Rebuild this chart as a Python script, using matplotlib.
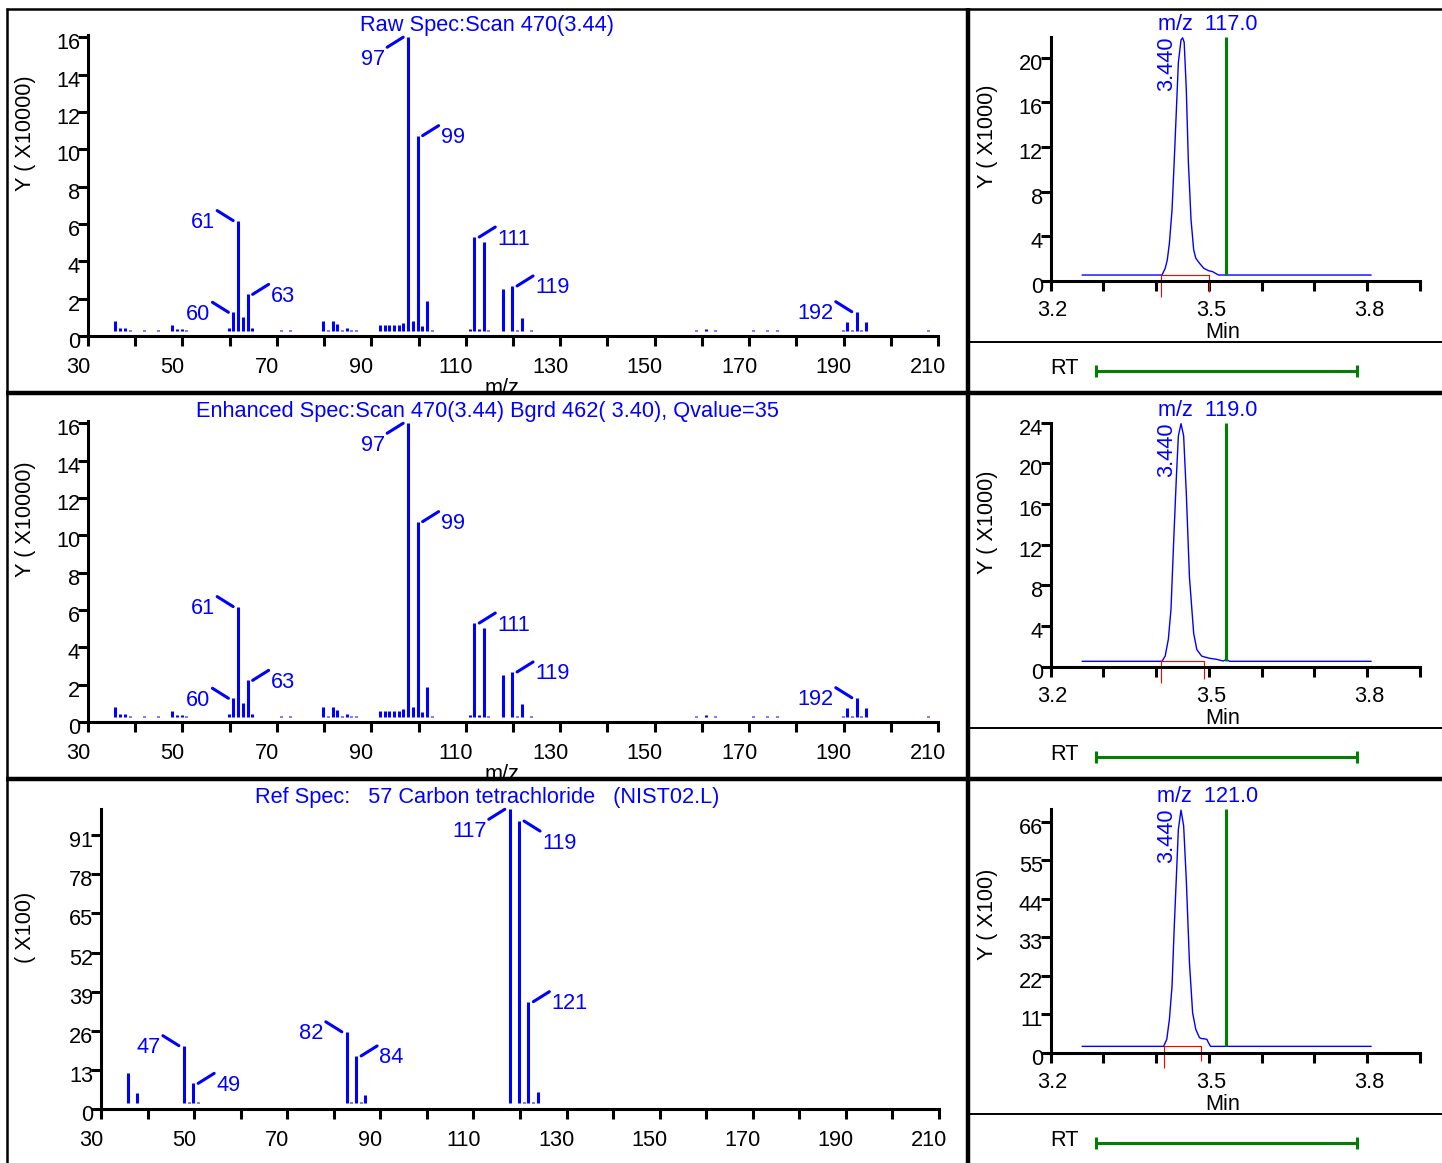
import matplotlib
matplotlib.use('Agg')
import matplotlib.pyplot as plt
from matplotlib.lines import Line2D
from matplotlib.transforms import ScaledTranslation, offset_copy
import numpy as np

plt.rcParams['font.family'] = ['Liberation Sans', 'DejaVu Sans']

W, H = 1442, 1163
FS = 15.7
BLUE = '#0000ff'
GREEN = '#008000'
RED = '#ff0000'
ROW = 386          # pixel height of one row of panels
MZ_SHIFT = 0.8     # bars sit a little right of the labelled ticks

# ---- raw / enhanced spectrum (Y x10000) ----
raw_mz = [35, 36, 37, 38, 41, 44, 47, 48, 49, 50, 59, 60, 61, 62, 63, 64, 70, 72,
          79, 80, 81, 82, 83, 84, 85, 86, 91, 92, 93, 94, 95, 96, 97, 98, 99, 100,
          101, 102, 110, 111, 112, 113, 114, 117, 119, 120, 121, 123, 158, 160, 162,
          170, 173, 175, 189, 190, 191, 192, 193, 194, 207]
raw_int = [0.82, 0.41, 0.41, 0.34, 0.34, 0.34, 0.59, 0.38, 0.38, 0.34, 0.41, 1.27,
           6.18, 1.03, 2.23, 0.41, 0.34, 0.34, 0.82, 0.34, 0.82, 0.64, 0.34, 0.43,
           0.34, 0.34, 0.59, 0.59, 0.59, 0.59, 0.59, 0.68, 16.0, 0.82, 10.73, 0.54,
           1.87, 0.34, 0.36, 5.30, 0.36, 5.02, 0.34, 2.50, 2.68, 0.34, 0.98, 0.34,
           0.34, 0.38, 0.34, 0.34, 0.34, 0.34, 0.34, 0.77, 0.34, 1.30, 0.34, 0.77, 0.34]
raw_peaks = [(97, 'DL'), (99, 'UR'), (60, 'UL'), (61, 'UL'), (63, 'UR'),
             (111, 'UR'), (119, 'UR'), (192, 'UL')]

# the enhanced spectrum reads the same as the raw one
enh_mz = raw_mz
enh_int = raw_int
enh_peaks = raw_peaks

# ---- library reference spectrum (x100) ----
ref_mz = [35, 37, 47, 48, 49, 50, 82, 83, 84, 85, 86, 117, 119, 120, 121, 122, 123]
ref_int = [12.1, 5.5, 21.1, 2.5, 8.6, 2.5, 25.7, 2.5, 17.7, 2.5, 4.6, 99.5, 95.6,
           2.5, 35.7, 2.5, 5.6]
ref_peaks = [(47, 'UL'), (49, 'UR'), (82, 'UL'), (84, 'UR'), (117, 'DL'),
             (119, 'DR'), (121, 'UR')]

# ---- extracted ion chromatograms ----
c117_t = [3.260, 3.411, 3.417, 3.421, 3.425, 3.430, 3.434, 3.438, 3.442, 3.447,
          3.450, 3.453, 3.457, 3.461, 3.466, 3.471, 3.475, 3.482, 3.490, 3.499,
          3.507, 3.512, 3.518, 3.807]
c117_y = [0.51, 0.51, 1.11, 1.86, 3.37, 6.37, 10.58, 15.08, 19.59, 21.6, 21.8,
          21.4, 17.2, 10.58, 5.47, 2.77, 2.02, 1.57, 1.12, 0.90, 0.81, 0.67,
          0.51, 0.51]
c119_t = [3.260, 3.411, 3.417, 3.423, 3.428, 3.433, 3.438, 3.442, 3.447, 3.452,
          3.457, 3.463, 3.471, 3.477, 3.486, 3.492, 3.502, 3.515, 3.527, 3.533,
          3.539, 3.807]
c119_y = [0.53, 0.53, 1.05, 2.70, 5.65, 12.2, 18.4, 22.7, 23.9, 22.7, 17.1, 8.8,
          3.29, 1.68, 1.05, 0.95, 0.82, 0.72, 0.56, 0.72, 0.53, 0.53]
c121_t = [3.260, 3.414, 3.420, 3.425, 3.430, 3.434, 3.438, 3.442, 3.447, 3.452,
          3.457, 3.463, 3.469, 3.475, 3.482, 3.487, 3.490, 3.496, 3.499, 3.503, 3.807]
c121_y = [1.81, 1.81, 3.81, 9.52, 19.05, 35.2, 49.5, 63.8, 69.3, 64.8, 49.5, 25.7,
          11.4, 6.67, 4.29, 4.0, 4.0, 3.81, 2.86, 1.81, 1.81]

chrom_ions = ['117.0', '119.0', '121.0']
chrom_ylabels = ['Y ( X1000)', 'Y ( X1000)', 'Y ( X100)']
chrom_ytop = [21.9, 24.0, 69.7]
chrom_yticks = [[0, 4, 8, 12, 16, 20], [0, 4, 8, 12, 16, 20, 24],
                [0, 11, 22, 33, 44, 55, 66]]
integ_start = [3.410, 3.409, 3.415]
integ_end = [3.501, 3.490, 3.485]
integ_drop = [(-1.44, -0.99), (-1.58, -1.25), (-4.3, -2.4)]
peak_rt = 3.447
peak_label = '3.440'
expected_rt = 3.533
rt_window = [3.286, 3.780]

fig = plt.figure(figsize=(W / 100, H / 100), dpi=100)


def fx(px):
    return px / W


def fy(py):
    return 1 - py / H


def box(l, t, r, b):
    return fig.add_axes([l / W, 1 - b / H, (r - l) / W, (b - t) / H])


def shift_labels(labels, dx, dy):
    for lab in labels:
        lab.set_transform(lab.get_transform() +
                          ScaledTranslation(dx / 100, dy / 100, fig.dpi_scale_trans))


def style(ax, xpad=8):
    ax.patch.set_alpha(0)
    for s in ('top', 'right'):
        ax.spines[s].set_visible(False)
    for s in ('left', 'bottom'):
        ax.spines[s].set_linewidth(2.2)
    ax.tick_params(length=7.2, width=2.2, labelsize=FS, direction='out')
    ax.tick_params(axis='y', pad=-1.5)
    ax.tick_params(axis='x', pad=xpad)


def label_peak(ax, x, y, side):
    sx = -1 if side[1] == 'L' else 1
    sy = 1 if side[0] == 'U' else -1
    start = offset_copy(ax.transData, fig=fig, x=5 * sx, y=0, units='dots')
    ax.annotate('', xy=(x, y), xycoords=start, xytext=(16 * sx, 10 * sy),
                textcoords='offset pixels', annotation_clip=False,
                arrowprops=dict(arrowstyle='-', color=BLUE, lw=2.2,
                                shrinkA=0, shrinkB=0))
    ty = -2 if sy > 0 else -22.5
    ax.annotate(str(x), xy=(x, y), xytext=(23 * sx, ty), textcoords='offset pixels',
                ha='right' if sx < 0 else 'left', va='center', color=BLUE,
                fontsize=FS, annotation_clip=False)


def spectrum(l, t, r, b, ytop, yticks, floor, mz, inten, peaks, title, ylabel, dy):
    ax = box(l, t + dy, r, b + dy)
    style(ax)
    ax.vlines(mz, floor, inten, colors=BLUE, lw=2.2, capstyle='butt')
    ax.set_xlim(30 - MZ_SHIFT, 210 - MZ_SHIFT)
    ax.set_ylim(0, ytop)
    ticks = np.arange(30, 211, 10)
    ax.set_xticks(ticks - MZ_SHIFT)
    ax.set_xticklabels([str(v) if (v - 30) % 20 == 0 else '' for v in ticks])
    ax.set_yticks(yticks)
    ax.set_yticklabels([str(v) for v in yticks])
    shift_labels(ax.get_xticklabels(), -10, 0)
    shift_labels(ax.get_yticklabels(), 0, -4)
    for m, side in peaks:
        label_peak(ax, m, inten[mz.index(m)], side)
    fig.text(fx(487), fy(25 + dy), title, color=BLUE, fontsize=FS,
             ha='center', va='center')
    fig.text(fx(25), fy(191 + dy), ylabel, rotation=90, fontsize=FS,
             ha='center', va='bottom')
    return ax


def chromatogram(i, t, y):
    dy = i * ROW
    ax = box(1050.7, 36.7 + dy, 1420, 280.7 + dy)
    style(ax, xpad=6.5)
    ytop = chrom_ytop[i]
    base = y[0]
    ax.plot(t, y, color=BLUE, lw=1.0)
    ax.plot([integ_start[i], integ_end[i]], [base, base], color=RED, lw=0.8)
    ax.vlines([integ_start[i], integ_end[i]], integ_drop[i], base, colors=RED,
              lw=0.8, clip_on=False)
    ax.vlines([expected_rt], base, ytop, colors=GREEN, lw=2.2)
    ax.set_xlim(3.2, 3.9)
    ax.set_ylim(0, ytop)
    xt = np.round(np.arange(3.2, 3.95, 0.1), 1)
    ax.set_xticks(xt)
    ax.set_xticklabels(['3.2', '', '', '3.5', '', '', '3.8', ''])
    ax.set_yticks(chrom_yticks[i])
    ax.set_yticklabels([str(v) for v in chrom_yticks[i]])
    shift_labels(ax.get_xticklabels(), 2, 0)
    shift_labels(ax.get_yticklabels(), 0, -4)
    ax.text(peak_rt, ytop, peak_label, rotation=90, color=BLUE, fontsize=FS,
            ha='center', va='top',
            transform=offset_copy(ax.transData, fig=fig, x=-14, y=0, units='dots'))
    fig.text(fx(1208), fy(25 + dy), 'm/z  ' + chrom_ions[i], color=BLUE,
             fontsize=FS, ha='center', va='center')
    fig.text(fx(988), fy(188 + dy), chrom_ylabels[i], rotation=90, fontsize=FS,
             ha='center', va='bottom')
    fig.text(fx(1223), fy(332 + dy), 'Min', fontsize=FS, ha='center', va='center')

    # retention time window strip
    rt = box(1050.7, 356 + dy, 1420, 386 + dy)
    rt.axis('off')
    rt.set_xlim(3.2, 3.9)
    rt.set_ylim(-1, 1)
    rt.plot(rt_window, [0, 0], color=GREEN, lw=2.2)
    rt.vlines(rt_window, -0.43, 0.43, colors=GREEN, lw=2.2)
    fig.text(fx(1065), fy(368 + dy), 'RT', fontsize=FS, ha='center', va='center')
    return ax


spectrum(88, 35, 938, 336, 16.12, list(range(0, 17, 2)), 0.28, raw_mz, raw_int,
         raw_peaks, 'Raw Spec:Scan 470(3.44)', 'Y ( X10000)', 0)
spectrum(88, 35, 938, 336, 16.12, list(range(0, 17, 2)), 0.28, enh_mz, enh_int,
         enh_peaks, 'Enhanced Spec:Scan 470(3.44) Bgrd 462( 3.40), Qvalue=35',
         'Y ( X10000)', ROW)
spectrum(101, 809.3 - 2 * ROW, 939, 1109.3 - 2 * ROW, 99.5, list(range(0, 92, 13)),
         2.2, ref_mz, ref_int, ref_peaks,
         'Ref Spec:   57 Carbon tetrachloride   (NIST02.L)', '( X100)', 2 * ROW)
for dy in (0, ROW):
    fig.text(fx(502), fy(388 + dy), 'm/z', fontsize=FS, ha='center', va='center')

chromatogram(0, c117_t, c117_y)
chromatogram(1, c119_t, c119_y)
chromatogram(2, c121_t, c121_y)

# panel frame lines
def hline(y, x0, x1, lw):
    fig.add_artist(Line2D([fx(x0), fx(x1)], [fy(y), fy(y)], color='black', lw=lw,
                          solid_capstyle='butt', zorder=5))


def vline(x, y0, y1, lw):
    fig.add_artist(Line2D([fx(x), fx(x)], [fy(y0), fy(y1)], color='black', lw=lw,
                          solid_capstyle='butt', zorder=5))


hline(9.3, 6, W, 1.8)
vline(7, 8, H, 1.8)
vline(968.3, 8, H, 3.2)
for k in range(3):
    hline(342 + k * ROW, 968, W, 1.4)
hline(393.3, 6, W, 3.2)
hline(393.3 + ROW, 6, W, 3.2)

fig.savefig('out.png', dpi=100)
